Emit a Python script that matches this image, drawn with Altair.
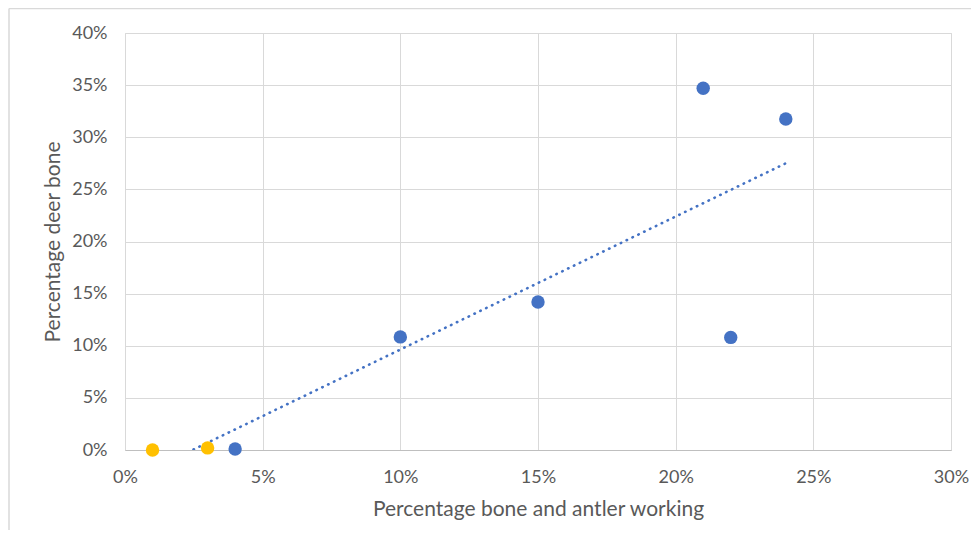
import altair as alt
import pandas as pd

# Data (fractions)
x_blue = [0.04, 0.10, 0.15, 0.21, 0.22, 0.24]
y_blue = [0.001, 0.1085, 0.142, 0.347, 0.108, 0.3175]
x_orange = [0.01, 0.03]
y_orange = [0.0, 0.002]

x_ticks = [0, 0.05, 0.10, 0.15, 0.20, 0.25, 0.30]
y_ticks = [0, 0.05, 0.10, 0.15, 0.20, 0.25, 0.30, 0.35, 0.40]

df = pd.DataFrame({
    "x": x_blue + x_orange,
    "y": y_blue + y_orange,
    "grp": ["blue"] * len(x_blue) + ["orange"] * len(x_orange),
})

FONT = "Lato"
GREY = "#595959"

xs = alt.Scale(domain=[0, 0.3], nice=False)
ys = alt.Scale(domain=[0, 0.4], nice=False)

xaxis = alt.Axis(values=x_ticks, format=".0%", title="Percentage bone and antler working",
                 grid=True, gridColor="#d9d9d9", ticks=False, domainColor="#bfbfbf",
                 labelFontSize=18, labelColor=GREY, labelPadding=18, labelFont=FONT,
                 labelFlush=False,
                 titleFontSize=21, titleColor=GREY, titleFont=FONT, titleFontWeight="normal",
                 titlePadding=12)
yaxis = alt.Axis(values=y_ticks, format=".0%", title="Percentage deer bone",
                 grid=True, gridColor="#d9d9d9", ticks=False, domain=False,
                 labelFontSize=18, labelColor=GREY, labelPadding=18, labelFont=FONT,
                 labelFlush=False,
                 titleFontSize=21, titleColor=GREY, titleFont=FONT, titleFontWeight="normal",
                 titlePadding=8)

base = alt.Chart(df)

points = base.mark_circle(size=180, opacity=1).encode(
    x=alt.X("x:Q", scale=xs, axis=xaxis),
    y=alt.Y("y:Q", scale=ys, axis=yaxis),
    color=alt.Color("grp:N", scale=alt.Scale(domain=["blue", "orange"],
                                             range=["#4472C4", "#FFC000"]), legend=None),
)

trend = base.transform_regression("x", "y", extent=[0.01, 0.24]).mark_line(
    color="#4472C4", strokeWidth=2.6, strokeDash=[0.5, 6], strokeCap="round", clip=True
).encode(
    x=alt.X("x:Q", scale=xs),
    y=alt.Y("y:Q", scale=ys),
)

one = pd.DataFrame({"a": [0]})
border_top = alt.Chart(one).mark_rule(color="#d9d9d9", strokeWidth=1.5, clip=False).encode(
    x=alt.value(-116), x2=alt.value(846), y=alt.value(-24.5)
)
border_left = alt.Chart(one).mark_rule(color="#d9d9d9", strokeWidth=1.5, clip=False).encode(
    x=alt.value(-116), y=alt.value(-24.5), y2=alt.value(505)
)

chart = alt.layer(border_top, border_left, trend, points).properties(
    width=826, height=417,
    autosize=alt.AutoSizeParams(type="none"),
    padding={"left": 117, "top": 25, "right": 20, "bottom": 80},
).configure_view(stroke=None).configure(background="white")

chart.save("out.html", embed_options={"renderer": "svg", "actions": False})
